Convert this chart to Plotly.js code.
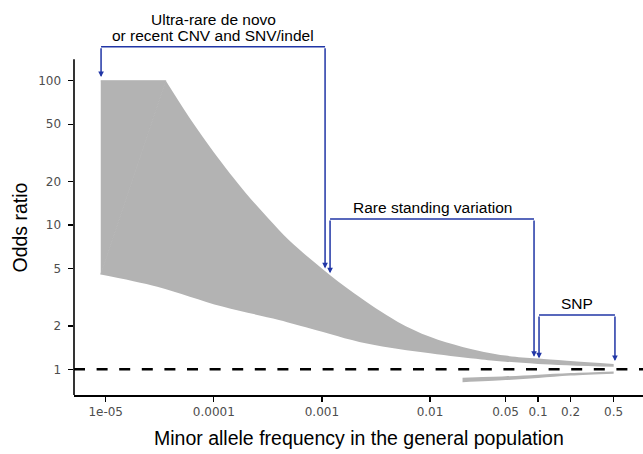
<!DOCTYPE html>
<html><head><meta charset="utf-8">
<script src="https://cdn.plot.ly/plotly-3.0.1.min.js"></script>
<style>html,body{margin:0;padding:0;background:#fff}#chart{width:643px;height:454px}</style>
</head><body><div id="chart"></div>
<script>
// ---- data ----
const riskUpperMaf = [9e-6, 3.6e-5, 6.2e-5, 1e-4, 2e-4, 3.2e-4, 5e-4, 1e-3, 2e-3, 5e-3, 0.01, 0.02, 0.05, 0.1, 0.5];
const riskUpperOR  = [100, 100, 53, 32, 16.5, 11.1, 7.8, 5.0, 3.35, 2.14, 1.68, 1.43, 1.245, 1.19, 1.09];
const riskLowerMaf = [9e-6, 3e-5, 1.2e-4, 4e-4, 7.8e-4, 2.6e-3, 0.01, 0.03, 0.05, 0.1, 0.5];
const riskLowerOR  = [4.55, 3.74, 2.72, 2.2, 1.92, 1.51, 1.29, 1.17, 1.13, 1.09, 1.04];
const protUpperMaf = [0.02, 0.05, 0.1, 0.2, 0.5];
const protUpperOR  = [0.875, 0.895, 0.918, 0.943, 0.967];
const protLowerMaf = [0.02, 0.05, 0.1, 0.2, 0.5];
const protLowerOR  = [0.815, 0.843, 0.872, 0.905, 0.933];
const referenceOR = 1;

const bracketLabels = [['Ultra-rare de novo', 'or recent CNV and SNV/indel'], ['Rare standing variation'], ['SNP']];
const bracketLeft = [9.06e-6, 0.00119, 0.102];
const bracketRight = [0.00107, 0.0917, 0.514];
const bracketTop = [172, 11.0, 2.38];
const bracketLeftHead = [106, 4.63, 1.19];
const bracketRightHead = [5.0, 1.22, 1.14];

const xTickVals = [1e-5, 1e-4, 1e-3, 0.01, 0.05, 0.1, 0.2, 0.5];
const xTickText = ['1e-05', '0.0001', '0.001', '0.01', '0.05', '0.1', '0.2', '0.5'];
const yTickVals = [1, 2, 5, 10, 20, 50, 100];
const yTickText = ['1', '2', '5', '10', '20', '50', '100'];
const yAxisLineLimits = [0.664, 141];

// ---- styling ----
const BAND = '#b3b3b3';
const BLUE = '#2136a6';
const TICKFONT = {family: 'DejaVu Sans', size: 12, color: '#4d4d4d'};
const TITLEFONT = {family: 'Liberation Sans, Arial, sans-serif', size: 19.5, color: '#000'};
const LABELFONT = {family: 'Liberation Sans, Arial, sans-serif', size: 15.5, color: '#000'};
const L = Math.log10;

const nFlat = 2; // first two upper points form the flat cap at OR = 100

const traces = [
  {x: riskUpperMaf.slice(nFlat - 1), y: riskUpperOR.slice(nFlat - 1), type: 'scatter', mode: 'lines',
   line: {width: 0, color: BAND, shape: 'spline', smoothing: 1}, hoverinfo: 'skip', showlegend: false},
  {x: riskLowerMaf, y: riskLowerOR, type: 'scatter', mode: 'lines', fill: 'tonexty', fillcolor: BAND,
   line: {width: 0, color: BAND, shape: 'spline', smoothing: 1}, hoverinfo: 'skip', showlegend: false},
  {x: [riskUpperMaf[0], riskUpperMaf[1], riskLowerMaf[0]], y: [riskUpperOR[0], riskUpperOR[1], riskLowerOR[0]],
   type: 'scatter', mode: 'lines', fill: 'toself', fillcolor: BAND,
   line: {width: 1, color: BAND}, hoverinfo: 'skip', showlegend: false},
  {x: protUpperMaf, y: protUpperOR, type: 'scatter', mode: 'lines',
   line: {width: 0, color: BAND, shape: 'spline'}, hoverinfo: 'skip', showlegend: false},
  {x: protLowerMaf, y: protLowerOR, type: 'scatter', mode: 'lines', fill: 'tonexty', fillcolor: BAND,
   line: {width: 0, color: BAND, shape: 'spline'}, hoverinfo: 'skip', showlegend: false}
];

const shapes = [
  {type: 'line', xref: 'paper', yref: 'y', x0: 0, x1: 0, y0: yAxisLineLimits[0], y1: yAxisLineLimits[1],
   line: {color: '#000', width: 1.6}},
  {type: 'line', xref: 'paper', yref: 'y', x0: 0, x1: 1, y0: referenceOR, y1: referenceOR,
   line: {color: '#000', width: 2.4, dash: '11px,11.6px'}}
];
const annotations = [];

bracketLabels.forEach((lines, i) => {
  shapes.push({type: 'line', xref: 'x', yref: 'y', x0: bracketLeft[i], x1: bracketRight[i],
    y0: bracketTop[i], y1: bracketTop[i], line: {color: BLUE, width: 1.5}});
  [[bracketLeft[i], bracketLeftHead[i]], [bracketRight[i], bracketRightHead[i]]].forEach(([xv, hv]) => {
    annotations.push({xref: 'x', yref: 'y', x: L(xv), y: L(hv), axref: 'x', ayref: 'y',
      ax: L(xv), ay: L(bracketTop[i]), text: '', showarrow: true, arrowhead: 2, arrowsize: 0.75,
      arrowwidth: 1.5, arrowcolor: BLUE, standoff: 0, startstandoff: 0});
  });
  const xc = (L(bracketLeft[i]) + L(bracketRight[i])) / 2;
  lines.forEach((t, k) => {
    const fromBottom = lines.length - 1 - k;
    annotations.push({xref: 'x', yref: 'y', x: xc, y: L(bracketTop[i]), text: t, showarrow: false,
      xanchor: 'center', yanchor: 'bottom', yshift: 2 + fromBottom * 15.3, font: LABELFONT, borderpad: 0});
  });
});

annotations.push({xref: 'paper', yref: 'paper', x: 0.5, y: 0, yanchor: 'top', xanchor: 'center',
  yshift: -30, text: 'Minor allele frequency in the general population', showarrow: false, font: TITLEFONT});
annotations.push({xref: 'paper', yref: 'paper', x: 0, y: 0.4295, xanchor: 'center', yanchor: 'middle',
  xshift: -54, textangle: -90, text: 'Odds ratio', showarrow: false, font: TITLEFONT});

const layout = {
  width: 643, height: 454,
  margin: {l: 74, r: 0, t: 5, b: 59},
  paper_bgcolor: '#fff', plot_bgcolor: '#fff',
  showlegend: false,
  xaxis: {type: 'log', range: [-5.2932, -0.0296], showgrid: false, zeroline: false,
    showline: true, linecolor: '#000', linewidth: 1.6, ticks: 'outside', ticklen: 5, tickwidth: 1.3,
    tickcolor: '#000', tickvals: xTickVals, ticktext: xTickText, tickfont: TICKFONT},
  yaxis: {type: 'log', range: [-0.178, 2.525], showgrid: false, zeroline: false, showline: false,
    ticks: 'outside', ticklen: 5.5, tickwidth: 1.3, tickcolor: '#000',
    tickvals: yTickVals, ticktext: yTickText, tickfont: TICKFONT, ticklabelstandoff: 4},
  shapes: shapes,
  annotations: annotations
};

Plotly.newPlot('chart', traces, layout, {staticPlot: true, displayModeBar: false});
</script>
</body></html>
